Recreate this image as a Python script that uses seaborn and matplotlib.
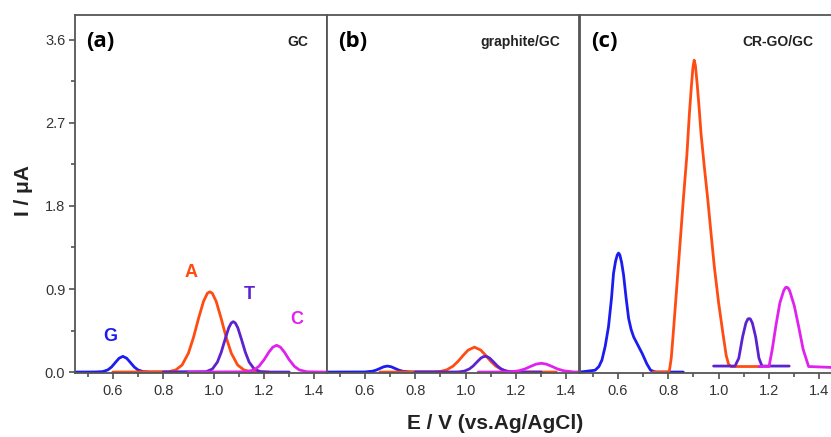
import numpy as np
import pandas as pd
import seaborn as sns
import matplotlib.pyplot as plt
from matplotlib.ticker import MultipleLocator

# colours of the four bases
c_g = '#1c1cf0'
c_a = '#ff4c12'
c_t = '#5c22d0'
c_c = '#e022ee'

# (a) GC
ga_x = [0.45, 0.53, 0.56, 0.58, 0.595, 0.61, 0.625, 0.64, 0.655, 0.67, 0.685, 0.70, 0.72, 0.75, 0.90]
ga_y = [0, 0.001, 0.005, 0.023, 0.055, 0.103, 0.150, 0.17, 0.150, 0.103, 0.055, 0.023, 0.005, 0.0, 0]
aa_x = [0.60, 0.82, 0.85, 0.875, 0.90, 0.92, 0.94, 0.96, 0.975, 0.985, 0.995, 1.01, 1.03, 1.05, 1.07, 1.095, 1.12, 1.15, 1.22]
aa_y = [0, 0.003, 0.023, 0.077, 0.205, 0.374, 0.580, 0.767, 0.853, 0.87, 0.853, 0.767, 0.580, 0.374, 0.205, 0.077, 0.023, 0.003, 0]
ta_x = [0.80, 0.97, 0.995, 1.015, 1.03, 1.045, 1.06, 1.07, 1.078, 1.086, 1.096, 1.111, 1.126, 1.141, 1.161, 1.186, 1.22, 1.30]
ta_y = [0, 0.004, 0.033, 0.108, 0.213, 0.35, 0.48, 0.532, 0.546, 0.532, 0.48, 0.35, 0.213, 0.108, 0.033, 0.004, 0, 0]
ca_x = [0.90, 1.13, 1.16, 1.18, 1.20, 1.22, 1.235, 1.25, 1.265, 1.28, 1.30, 1.32, 1.34, 1.37, 1.45]
ca_y = [0, 0.003, 0.023, 0.063, 0.133, 0.219, 0.27, 0.29, 0.27, 0.219, 0.133, 0.063, 0.023, 0.003, 0]

# (b) graphite/GC
gb_x = [0.45, 0.60, 0.63, 0.645, 0.66, 0.675, 0.69, 0.705, 0.72, 0.735, 0.75, 0.78, 0.90]
gb_y = [0, 0.001, 0.009, 0.021, 0.039, 0.057, 0.065, 0.057, 0.039, 0.021, 0.009, 0.001, 0]
ab_x = [0.66, 0.87, 0.90, 0.925, 0.95, 0.97, 0.99, 1.01, 1.035, 1.06, 1.08, 1.10, 1.12, 1.145, 1.17, 1.20, 1.36]
ab_y = [0, 0.001, 0.007, 0.024, 0.064, 0.116, 0.18, 0.238, 0.27, 0.238, 0.18, 0.116, 0.064, 0.024, 0.007, 0.001, 0]
tb_x = ta_x
tb_y = [0, 0.001, 0.01, 0.034, 0.066, 0.109, 0.15, 0.166, 0.17, 0.166, 0.15, 0.109, 0.066, 0.034, 0.01, 0.001, 0, 0]
cb_x = [1.05, 1.17, 1.21, 1.235, 1.255, 1.28, 1.30, 1.32, 1.345, 1.365, 1.39, 1.43, 1.45]
cb_y = [0, 0.001, 0.013, 0.033, 0.058, 0.086, 0.095, 0.086, 0.058, 0.033, 0.013, 0.001, 0]

# (c) CR-GO/GC
gc_x = [0.45, 0.51, 0.525, 0.537, 0.55, 0.563, 0.575, 0.583, 0.591, 0.598, 0.603, 0.608, 0.615,
        0.623, 0.633, 0.643, 0.653, 0.663, 0.68, 0.697, 0.715, 0.73, 0.75, 0.86]
gc_y = [0, 0.02, 0.06, 0.13, 0.28, 0.49, 0.80, 1.07, 1.20, 1.27, 1.29, 1.27, 1.19,
        1.05, 0.80, 0.58, 0.46, 0.38, 0.29, 0.2, 0.09, 0.02, 0, 0]
ac_x = [0.74, 0.80, 0.805, 0.812, 0.82, 0.84, 0.86, 0.874, 0.884, 0.892, 0.898, 0.903, 0.908, 0.915,
        0.923, 0.93, 0.943, 0.957, 0.97, 0.983, 1.0, 1.017, 1.03, 1.04, 1.05, 1.17]
ac_y = [0, 0, 0.02, 0.15, 0.42, 1.14, 1.87, 2.35, 2.80, 3.10, 3.30, 3.38, 3.32, 3.12,
        2.85, 2.59, 2.23, 1.87, 1.50, 1.14, 0.75, 0.42, 0.18, 0.08, 0.06, 0.06]
tc_x = [0.98, 1.065, 1.08, 1.095, 1.108, 1.116, 1.121, 1.126, 1.134, 1.147, 1.16, 1.172, 1.28]
tc_y = [0.065, 0.065, 0.15, 0.38, 0.53, 0.575, 0.58, 0.575, 0.53, 0.38, 0.15, 0.065, 0.065]
cc_x = [1.16, 1.20, 1.213, 1.227, 1.243, 1.258, 1.265, 1.27, 1.276, 1.282, 1.30, 1.317, 1.335, 1.357, 1.45]
cc_y = [0.06, 0.06, 0.25, 0.50, 0.75, 0.88, 0.915, 0.92, 0.91, 0.88, 0.72, 0.50, 0.25, 0.06, 0.05]

panel_tags = ['(a)', '(b)', '(c)']
panel_names = ['GC', 'graphite/GC', 'CR-GO/GC']
base_labels = ['G', 'A', 'T', 'C']
base_label_x = [0.59, 0.91, 1.14, 1.33]
base_label_y = [0.38, 1.08, 0.84, 0.57]

sns.set_style('ticks')
plt.rcParams['font.family'] = ['Liberation Sans', 'DejaVu Sans']

fig = plt.figure(figsize=(8.31, 4.37), dpi=100)
lefts = [75 / 831, 327 / 831, 580 / 831]
axes = [fig.add_axes([l, 0.1465, 0.3033, 0.8192]) for l in lefts]

curves = [
    [(ga_x, ga_y, c_g), (aa_x, aa_y, c_a), (ta_x, ta_y, c_t), (ca_x, ca_y, c_c)],
    [(gb_x, gb_y, c_g), (ab_x, ab_y, c_a), (tb_x, tb_y, c_t), (cb_x, cb_y, c_c)],
    [(gc_x, gc_y, c_g), (ac_x, ac_y, c_a), (tc_x, tc_y, c_t), (cc_x, cc_y, c_c)],
]

for i, ax in enumerate(axes):
    for xs, ys, col in curves[i]:
        d = pd.DataFrame({'E': xs, 'I': ys})
        sns.lineplot(data=d, x='E', y='I', ax=ax, color=col, lw=2.0, estimator=None)
    ax.set_xlim(0.45, 1.45)
    ax.set_ylim(-0.01, 3.87)
    ax.set_xlabel('')
    ax.set_ylabel('')
    ax.xaxis.set_minor_locator(MultipleLocator(0.1))
    ax.set_xticks([0.6, 0.8, 1.0, 1.2, 1.4])
    ax.set_xticklabels(['0.6', '0.8', '1.0', '1.2', '1.4'])
    ax.tick_params(axis='x', which='major', length=4, width=1.1, color='#444444',
                   labelsize=10.5, labelcolor='#333333', pad=4)
    ax.tick_params(axis='x', which='minor', length=3, width=1.1, color='#444444')
    for s in ax.spines.values():
        s.set_visible(True)
        s.set_color('#555555')
        s.set_linewidth(1.3)
    if i == 0:
        ax.set_yticks([0.0, 0.9, 1.8, 2.7, 3.6])
        ax.set_yticklabels(['0.0', '0.9', '1.8', '2.7', '3.6'])
        ax.yaxis.set_minor_locator(MultipleLocator(0.45))
        ax.tick_params(axis='y', which='major', length=4, width=1.1, color='#444444',
                       labelsize=10.5, labelcolor='#333333', pad=3)
        ax.tick_params(axis='y', which='minor', length=3, width=1.1, color='#444444')
    else:
        ax.set_yticks([])
        ax.tick_params(axis='y', which='minor', left=False)
    ax.text(0.045, 0.925, panel_tags[i], transform=ax.transAxes, fontsize=16,
            fontweight='bold', family='Open Sans', va='center', ha='left', color='black')
    ax.text(0.925, 0.925, panel_names[i], transform=ax.transAxes, fontsize=10,
            fontweight='bold', va='center', ha='right', color='#222222')

for lab, lx, ly, col in zip(base_labels, base_label_x, base_label_y, [c_g, c_a, c_t, c_c]):
    axes[0].text(lx, ly, lab, color=col, fontsize=13, fontweight='bold', ha='center', va='center')

fig.text(0.028, 0.565, 'I / μA', rotation=90, fontsize=15, fontweight='bold',
         ha='center', va='center', color='#222222')
fig.text(0.596, 0.032, 'E / V (vs.Ag/AgCl)', fontsize=15, fontweight='bold',
         ha='center', va='center', color='#222222')

fig.savefig('out.png', dpi=100)
